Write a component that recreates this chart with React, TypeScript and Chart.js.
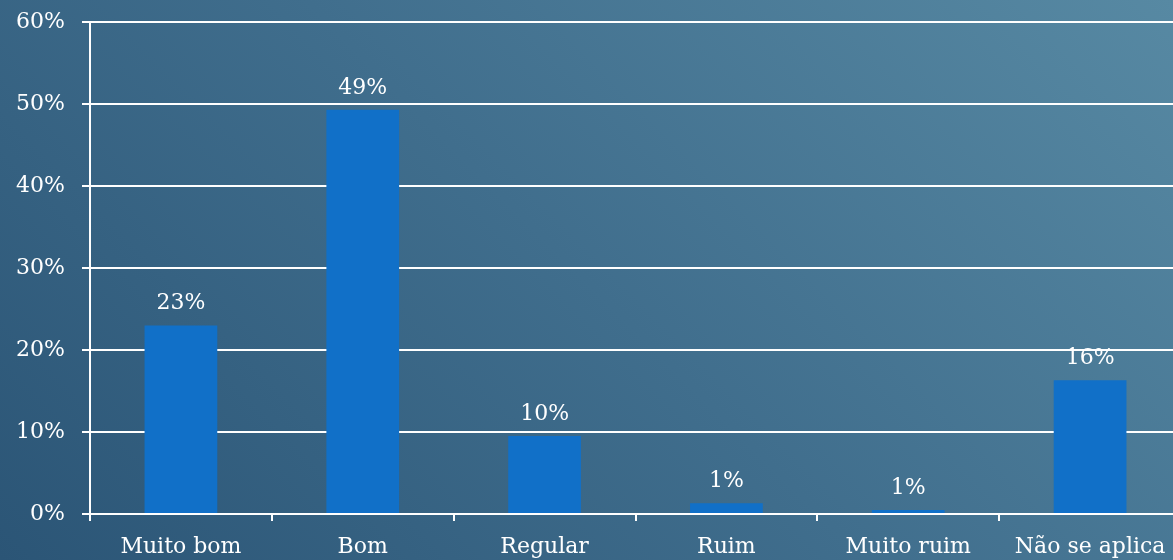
import React, { useEffect, useRef } from "react";
import { Chart, registerables } from "chart.js";

Chart.register(...registerables);

const categories = ["Muito bom", "Bom", "Regular", "Ruim", "Muito ruim", "Não se aplica"];
const values = [23.0, 49.3, 9.5, 1.3, 0.5, 16.3];
const valueLabels = ["23%", "49%", "10%", "1%", "1%", "16%"];
const yTicks = [0, 10, 20, 30, 40, 50, 60];

const FONT = "'DejaVu Serif', 'Liberation Serif', serif";
const FONT_SIZE = 22;

const bgPlugin = {
  id: "bg",
  beforeDraw(chart: any) {
    const { ctx, width, height } = chart;
    const g = ctx.createLinearGradient(0, 560, 866.5, -306.5);
    g.addColorStop(0, "#2b5576");
    g.addColorStop(0.5, "#406e8d");
    g.addColorStop(1, "#5789a3");
    ctx.save();
    ctx.fillStyle = g;
    ctx.fillRect(0, 0, width, height);
    ctx.restore();
  },
};

const labelPlugin = {
  id: "valueLabels",
  afterDatasetsDraw(chart: any) {
    const { ctx } = chart;
    const meta = chart.getDatasetMeta(0);
    ctx.save();
    ctx.fillStyle = "#ffffff";
    ctx.font = `${FONT_SIZE}px ${FONT}`;
    ctx.textAlign = "center";
    ctx.textBaseline = "alphabetic";
    meta.data.forEach((bar: any, i: number) => {
      ctx.fillText(valueLabels[i], bar.x, bar.y - 16);
    });
    ctx.restore();
  },
};

export default function App() {
  const ref = useRef<HTMLCanvasElement>(null);
  useEffect(() => {
    if (!ref.current) return;
    const chart = new Chart(ref.current, {
      type: "bar",
      data: {
        labels: categories,
        datasets: [
          {
            data: values,
            backgroundColor: "#1170c8",
            borderWidth: 0,
            barPercentage: 0.4,
            categoryPercentage: 1,
          },
        ],
      },
      options: {
        responsive: false,
        animation: false,
        layout: { padding: { top: 22, left: 0, right: 0, bottom: 0 } },
        plugins: { legend: { display: false }, tooltip: { enabled: false } },
        scales: {
          x: {
            offset: true,
            grid: {
              display: true,
              drawOnChartArea: false,
              drawTicks: true,
              tickLength: 7,
              color: "#ffffff",
              lineWidth: 2,
              offset: true,
            },
            border: { display: true, color: "#ffffff", width: 2 },
            ticks: {
              color: "#ffffff",
              font: { family: FONT, size: FONT_SIZE },
              padding: 13,
              maxRotation: 0,
              autoSkip: false,
            },
            afterFit(scale: any) {
              scale.height = 46;
              scale.paddingLeft = 0;
              scale.paddingRight = 0;
            },
          },
          y: {
            min: 0,
            max: 60,
            afterBuildTicks(scale: any) {
              scale.ticks = yTicks.map((v) => ({ value: v }));
            },
            grid: {
              color: "#ffffff",
              lineWidth: 2,
              drawTicks: true,
              tickLength: 8,
            },
            border: { display: true, color: "#ffffff", width: 2 },
            ticks: {
              color: "#ffffff",
              font: { family: FONT, size: FONT_SIZE },
              padding: 17,
              callback: (v: any) => `${v}%`,
            },
            afterFit(scale: any) {
              scale.width = 90;
              scale.paddingTop = 0;
              scale.paddingBottom = 0;
            },
          },
        },
      },
      plugins: [bgPlugin, labelPlugin],
    });
    return () => chart.destroy();
  }, []);
  return (
    <div
      style={{
        position: "absolute",
        left: 0,
        top: 0,
        width: 1173,
        height: 560,
        overflow: "hidden",
      }}
    >
      <canvas ref={ref} width={1181} height={560} style={{ display: "block" }} />
    </div>
  );
}
